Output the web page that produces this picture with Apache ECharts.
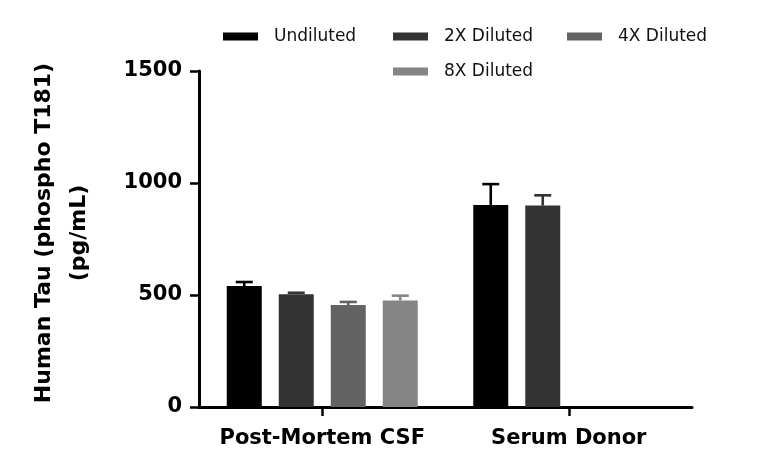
<!DOCTYPE html>
<html>
<head>
<meta charset="utf-8">
<script src="https://cdn.jsdelivr.net/npm/echarts@6/dist/echarts.min.js"></script>
<style>
  html, body { margin: 0; padding: 0; background: #fff; }
  #main { width: 768px; height: 475px; }
</style>
</head>
<body>
<div id="main"></div>
<script>
var categories = ['Post-Mortem CSF', 'Serum Donor'];
var seriesNames = ['Undiluted', '2X Diluted', '4X Diluted', '8X Diluted'];
// mean values
var undiluted = [540, 902];
var diluted2x = [503, 899];
var diluted4x = [455, null];
var diluted8x = [475, null];
// top of error bar (mean + SD)
var undilutedErr = [558, 995];
var diluted2xErr = [510, 945];
var diluted4xErr = [469, null];
var diluted8xErr = [497, null];
var yTicks = [0, 500, 1000, 1500];

var colors = ['#000000', '#333333', '#636363', '#858585'];
var values = [undiluted, diluted2x, diluted4x, diluted8x];
var errs = [undilutedErr, diluted2xErr, diluted4xErr, diluted8xErr];

var BAR_W = 35, BAR_GAP = 17;
var fontFam = '"DejaVu Sans", sans-serif';

var chart = echarts.init(document.getElementById('main'), null, { renderer: 'canvas' });

var series = [];
values.forEach(function (vals, i) {
  series.push({
    name: seriesNames[i],
    type: 'bar',
    data: vals.map(function (v) { return v == null ? '-' : v; }),
    barWidth: BAR_W,
    barGap: (BAR_GAP / BAR_W * 100) + '%',
    itemStyle: { color: colors[i] },
    z: 2
  });
});

// error bars, drawn on top of the bars
values.forEach(function (vals, i) {
  var offset = (i - 1.5) * (BAR_W + BAR_GAP);
  var data = [];
  vals.forEach(function (v, c) {
    if (v != null) data.push([c, v, errs[i][c]]);
  });
  series.push({
    type: 'custom',
    name: seriesNames[i] + ' err',
    data: data,
    z: 3,
    silent: true,
    renderItem: function (params, api) {
      var lo = api.coord([api.value(0), api.value(1)]);
      var hi = api.coord([api.value(0), api.value(2)]);
      var x = lo[0] + offset;
      var cap = 8.5;
      var st = { stroke: colors[i], lineWidth: 2.6 };
      return {
        type: 'group',
        children: [
          { type: 'line', shape: { x1: x, y1: lo[1], x2: x, y2: hi[1] }, style: st },
          { type: 'line', shape: { x1: x - cap, y1: hi[1], x2: x + cap, y2: hi[1] }, style: st }
        ]
      };
    },
    encode: { x: 0, y: [1, 2] }
  });
});

var legendPos = [[218, 23], [388, 23], [562, 23], [388, 58]];
var legends = seriesNames.map(function (n, i) {
  return {
    data: [n],
    left: legendPos[i][0],
    top: legendPos[i][1],
    icon: 'rect',
    itemWidth: 35,
    itemHeight: 8,
    selectedMode: false,
    textStyle: { fontFamily: fontFam, fontSize: 17, color: '#111', padding: [0, 0, 0, 11] }
  };
});

var option = {
  backgroundColor: '#fff',
  animation: false,
  color: colors,
  legend: legends,
  grid: { left: 199, right: 76, top: 71, bottom: 68, containLabel: false },
  xAxis: {
    type: 'category',
    data: categories,
    axisLine: { lineStyle: { color: '#000', width: 3 } },
    axisTick: { show: true, alignWithLabel: true, length: 9, lineStyle: { color: '#000', width: 2.5 } },
    axisLabel: { interval: 0, color: '#000', fontFamily: fontFam, fontWeight: 'bold', fontSize: 21, margin: 21 }
  },
  yAxis: {
    type: 'value',
    min: yTicks[0],
    max: yTicks[yTicks.length - 1],
    interval: 500,
    name: 'Human Tau (phospho T181)\n(pg/mL)',
    nameLocation: 'middle',
    nameRotate: 90,
    nameGap: 102,
    nameTextStyle: {
      color: '#000', fontFamily: fontFam, fontWeight: 'bold', fontSize: 22, lineHeight: 35,
      padding: [0, 0, 0, 12]
    },
    axisLine: { show: true, lineStyle: { color: '#000', width: 3 } },
    axisTick: { show: true, length: 9, lineStyle: { color: '#000', width: 2.5 } },
    splitLine: { show: false },
    axisLabel: {
      color: '#000', fontFamily: fontFam, fontWeight: 'bold', fontSize: 21, margin: 17,
      formatter: function (v) { return String(v); }
    }
  },
  series: series
};

chart.setOption(option);
</script>
</body>
</html>
